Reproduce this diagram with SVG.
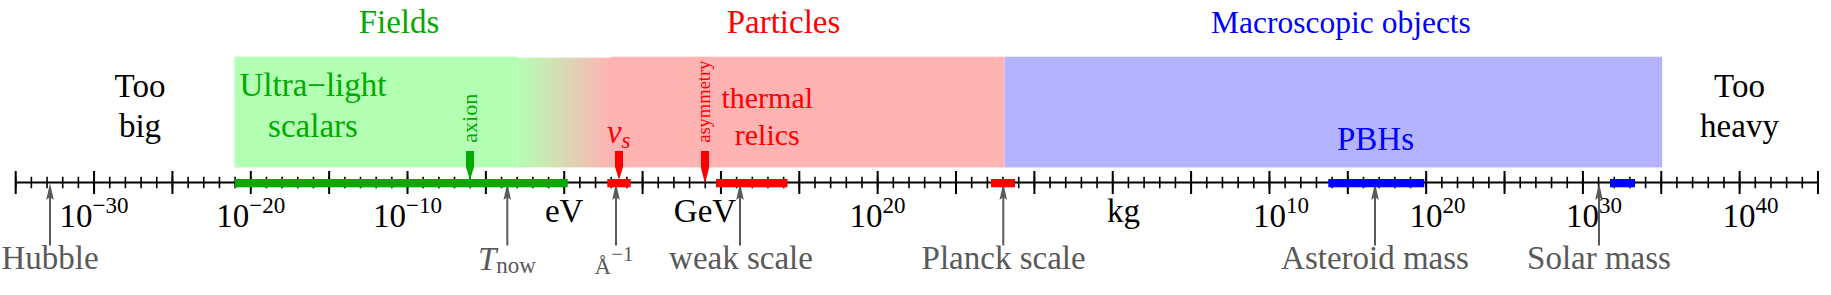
<svg xmlns="http://www.w3.org/2000/svg" width="1831" height="295" viewBox="0 0 1831 295">
<defs>
<linearGradient id="gp" x1="0" y1="0" x2="1" y2="0">
<stop offset="0" stop-color="#b3ffb3"/>
<stop offset="1" stop-color="#ffb3b3"/>
</linearGradient>
<style>
text{font-family:"Liberation Serif","Times New Roman",serif;}
.big{font-size:33px;}
.sup{font-size:23px;}
.k{fill:#000;}
.g{fill:#00aa00;}
.r{fill:#ff0000;}
.b{fill:#0000ff;}
.gr{fill:#595959;}
.it{font-style:italic;}
.tick{stroke:#000;fill:none;}
.garrow line{stroke:#595959;stroke-width:2;}
.garrow polygon{fill:#595959;}
</style>
</defs>
<rect width="1831" height="295" fill="#fff"/>

<g id="regions">
<rect x="234.3" y="56.7" width="283.4" height="110.7" fill="#b3ffb3"/>
<rect x="517.7" y="57.7" width="93.3" height="109.7" fill="url(#gp)"/>
<rect x="611" y="56.7" width="393.7" height="110.7" fill="#ffb3b3"/>
<rect x="1004.7" y="56.7" width="657.5" height="110.7" fill="#b3b3ff"/>
</g>

<g id="axis">
<line x1="15.7" y1="182.5" x2="1818" y2="182.5" stroke="#000" stroke-width="2"/>
<path class="tick" stroke-width="1.6" d="M15.7 176.7v11.6
m15.672-11.6v11.6m15.672-11.6v11.6m15.672-11.6v11.6m15.672-11.6v11.6m15.672-11.6v11.6
m15.672-11.6v11.6m15.672-11.6v11.6m15.672-11.6v11.6m15.672-11.6v11.6m15.672-11.6v11.6
m15.672-11.6v11.6m15.672-11.6v11.6m15.672-11.6v11.6m15.672-11.6v11.6m15.672-11.6v11.6
m15.672-11.6v11.6m15.672-11.6v11.6m15.672-11.6v11.6m15.672-11.6v11.6m15.672-11.6v11.6
m15.672-11.6v11.6m15.672-11.6v11.6m15.672-11.6v11.6m15.672-11.6v11.6m15.672-11.6v11.6
m15.672-11.6v11.6m15.672-11.6v11.6m15.672-11.6v11.6m15.672-11.6v11.6m15.672-11.6v11.6
m15.672-11.6v11.6m15.672-11.6v11.6m15.672-11.6v11.6m15.672-11.6v11.6m15.672-11.6v11.6
m15.672-11.6v11.6m15.672-11.6v11.6m15.672-11.6v11.6m15.672-11.6v11.6m15.672-11.6v11.6
m15.672-11.6v11.6m15.672-11.6v11.6m15.672-11.6v11.6m15.672-11.6v11.6m15.672-11.6v11.6
m15.672-11.6v11.6m15.672-11.6v11.6m15.672-11.6v11.6m15.672-11.6v11.6m15.672-11.6v11.6
m15.672-11.6v11.6m15.672-11.6v11.6m15.672-11.6v11.6m15.672-11.6v11.6m15.672-11.6v11.6
m15.672-11.6v11.6m15.672-11.6v11.6m15.672-11.6v11.6m15.672-11.6v11.6m15.672-11.6v11.6
m15.672-11.6v11.6m15.672-11.6v11.6m15.672-11.6v11.6m15.672-11.6v11.6m15.672-11.6v11.6
m15.672-11.6v11.6m15.672-11.6v11.6m15.672-11.6v11.6m15.672-11.6v11.6m15.672-11.6v11.6
m15.672-11.6v11.6m15.672-11.6v11.6m15.672-11.6v11.6m15.672-11.6v11.6m15.672-11.6v11.6
m15.672-11.6v11.6m15.672-11.6v11.6m15.672-11.6v11.6m15.672-11.6v11.6m15.672-11.6v11.6
m15.672-11.6v11.6m15.672-11.6v11.6m15.672-11.6v11.6m15.672-11.6v11.6m15.672-11.6v11.6
m15.672-11.6v11.6m15.672-11.6v11.6m15.672-11.6v11.6m15.672-11.6v11.6m15.672-11.6v11.6
m15.672-11.6v11.6m15.672-11.6v11.6m15.672-11.6v11.6m15.672-11.6v11.6m15.672-11.6v11.6
m15.672-11.6v11.6m15.672-11.6v11.6m15.672-11.6v11.6m15.672-11.6v11.6m15.672-11.6v11.6
m15.672-11.6v11.6m15.672-11.6v11.6m15.672-11.6v11.6m15.672-11.6v11.6m15.672-11.6v11.6
m15.672-11.6v11.6m15.672-11.6v11.6m15.672-11.6v11.6m15.672-11.6v11.6m15.672-11.6v11.6
m15.672-11.6v11.6m15.672-11.6v11.6m15.672-11.6v11.6m15.672-11.6v11.6m15.672-11.6v11.6"/>
<path class="tick" stroke-width="2" d="M15.7 171v23
m78.36-23v23m78.36-23v23m78.36-23v23m78.36-23v23m78.36-23v23m78.36-23v23
m78.36-23v23m78.36-23v23m78.36-23v23m78.36-23v23m78.36-23v23m78.36-23v23
m78.36-23v23m78.36-23v23m78.36-23v23m78.36-23v23m78.36-23v23m78.36-23v23
m78.36-23v23m78.36-23v23m78.36-23v23m78.36-23v23m78.36-23v23"/>
</g>

<g id="tick-labels" class="k">
<text class="big" x="94" y="227.3" text-anchor="middle">10<tspan class="sup" dy="-14">−30</tspan></text>
<text class="big" x="250.8" y="227.3" text-anchor="middle">10<tspan class="sup" dy="-14">−20</tspan></text>
<text class="big" x="407.5" y="227.3" text-anchor="middle">10<tspan class="sup" dy="-14">−10</tspan></text>
<text class="big" x="564.2" y="221.7" text-anchor="middle">eV</text>
<text class="big" x="705" y="221.7" text-anchor="middle">GeV</text>
<text class="big" x="877.6" y="227.3" text-anchor="middle">10<tspan class="sup" dy="-14">20</tspan></text>
<text class="big" x="1123.5" y="221.7" text-anchor="middle">kg</text>
<text class="big" x="1281" y="227.3" text-anchor="middle">10<tspan class="sup" dy="-14">10</tspan></text>
<text class="big" x="1437.5" y="227.3" text-anchor="middle">10<tspan class="sup" dy="-14">20</tspan></text>
<text class="big" x="1594" y="227.3" text-anchor="middle">10<tspan class="sup" dy="-14">30</tspan></text>
<text class="big" x="1750.5" y="227.3" text-anchor="middle">10<tspan class="sup" dy="-14">40</tspan></text>
</g>

<g id="connectors">
<g class="garrow">
<line x1="50" y1="245.5" x2="50" y2="196"/><polygon points="50,183 53.8,200 50,197 46.2,200"/>
<line x1="507.3" y1="245.5" x2="507.3" y2="196"/><polygon points="507.3,183 511.1,200 507.3,197 503.5,200"/>
<line x1="616" y1="245.5" x2="616" y2="196"/><polygon points="616,183 619.8,200 616,197 612.2,200"/>
<line x1="740" y1="245.5" x2="740" y2="196"/><polygon points="740,183 743.8,200 740,197 736.2,200"/>
<line x1="1003.3" y1="245.5" x2="1003.3" y2="196"/><polygon points="1003.3,183 1007.1,200 1003.3,197 999.5,200"/>
<line x1="1375" y1="245.5" x2="1375" y2="196"/><polygon points="1375,183 1378.8,200 1375,197 1371.2,200"/>
<line x1="1599" y1="245.5" x2="1599" y2="196"/><polygon points="1599,183 1602.8,200 1599,197 1595.2,200"/>
</g>
<polygon fill="#00aa00" points="466,151 474,151 474,167 470,180 466,167"/>
<polygon fill="#ff0000" points="615,151 623,151 623,167 619,180 615,167"/>
<polygon fill="#ff0000" points="701,151 709,151 709,168 705,183.5 701,168"/>
</g>

<g id="bars">
<rect x="235" y="179" width="332.7" height="8.3" fill="#00aa00"/>
<rect x="607.3" y="179" width="23.4" height="8.3" fill="#ff0000"/>
<rect x="716" y="179" width="71.5" height="8.3" fill="#ff0000"/>
<rect x="991" y="179" width="24" height="8.3" fill="#ff0000"/>
<rect x="1328.3" y="179" width="96" height="8.3" fill="#0000ff"/>
<rect x="1610" y="179" width="25" height="8.3" fill="#0000ff"/>
</g>

<g id="fields-title"><text class="big g" x="399" y="33.3" text-anchor="middle">Fields</text></g>
<g id="particles-title"><text class="big r" x="783.5" y="33.3" text-anchor="middle">Particles</text></g>
<g id="macro-title"><text class="b" font-size="31.5" x="1341" y="33.3" text-anchor="middle">Macroscopic objects</text></g>

<g id="too-big"><text class="big k" x="140" y="96.7" text-anchor="middle">Too</text><text class="big k" x="140" y="137.3" text-anchor="middle">big</text></g>
<g id="ultra-light"><text class="big g" x="313" y="96" text-anchor="middle">Ultra−light</text><text class="big g" x="313" y="136.7" text-anchor="middle">scalars</text></g>
<g id="axion"><text class="g" font-size="22" transform="translate(476.5,118.3) rotate(-90)" text-anchor="middle">axion</text></g>
<g id="nu-s"><text class="r it" font-size="33" x="618.7" y="143.3" text-anchor="middle">ν<tspan font-size="23" dy="5">s</tspan></text></g>
<g id="asymmetry"><text class="r" font-size="18.5" transform="translate(710,101.7) rotate(-90)" text-anchor="middle">asymmetry</text></g>
<g id="thermal-relics"><text class="r" font-size="30" x="767.3" y="108.3" text-anchor="middle">thermal</text><text class="r" font-size="30" x="767.3" y="145.3" text-anchor="middle">relics</text></g>
<g id="pbhs"><text class="big b" x="1375.5" y="150" text-anchor="middle">PBHs</text></g>
<g id="too-heavy"><text class="big k" x="1739.5" y="96.7" text-anchor="middle">Too</text><text class="big k" x="1739.5" y="137.3" text-anchor="middle">heavy</text></g>

<g id="hubble"><text class="big gr" x="50" y="269" text-anchor="middle">Hubble</text></g>
<g id="t-now"><text class="big gr" x="507" y="270" text-anchor="middle"><tspan class="it">T</tspan><tspan class="sup" dy="3.3">now</tspan></text></g>
<g id="angstrom"><text class="gr" font-size="23" x="614" y="274" text-anchor="middle">Å<tspan font-size="21" dy="-13.3">−1</tspan></text></g>
<g id="weak-scale"><text class="big gr" x="741" y="269" text-anchor="middle">weak scale</text></g>
<g id="planck-scale"><text class="big gr" x="1003.6" y="269" text-anchor="middle">Planck scale</text></g>
<g id="asteroid-mass"><text class="big gr" x="1375" y="269" text-anchor="middle">Asteroid mass</text></g>
<g id="solar-mass"><text class="big gr" x="1599" y="269" text-anchor="middle">Solar mass</text></g>
</svg>
